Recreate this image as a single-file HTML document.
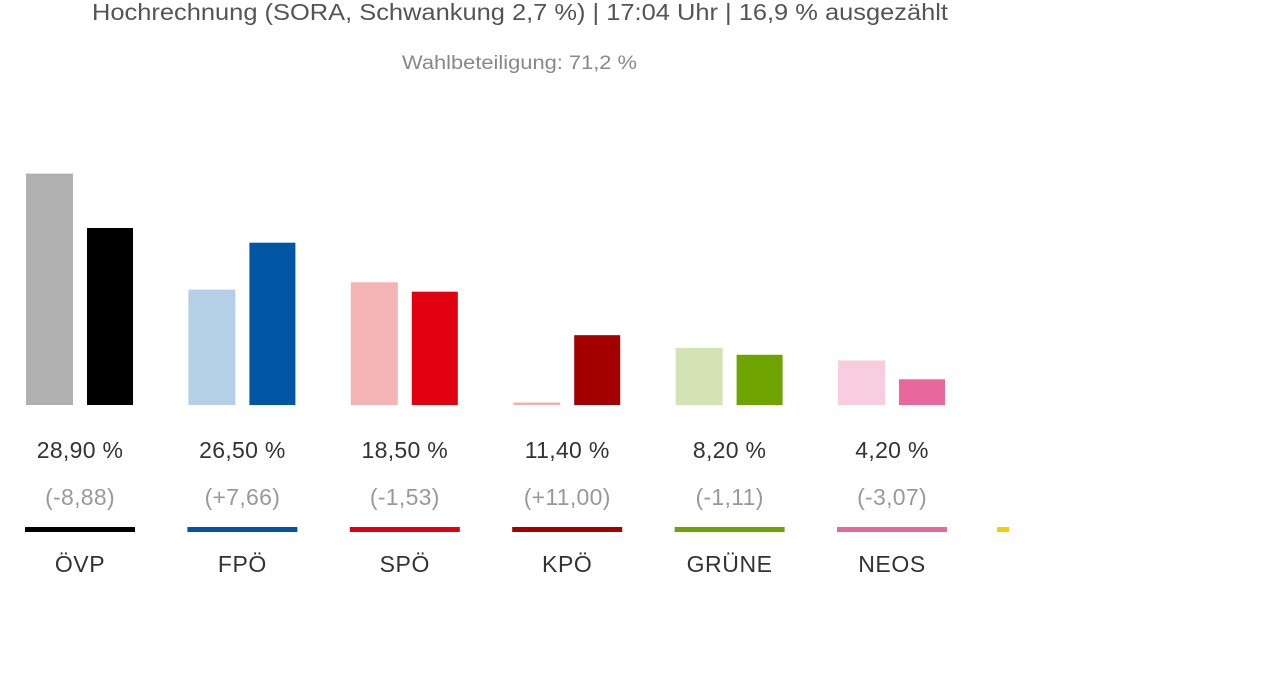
<!DOCTYPE html>
<html><head><meta charset="utf-8"><style>
body{margin:0;background:#fff;width:1280px;height:694px;overflow:hidden;font-family:"Liberation Sans",sans-serif}
</style></head><body>
<svg id="c" width="1280" height="694" xmlns="http://www.w3.org/2000/svg">
<text x="92" y="20" textLength="856" lengthAdjust="spacingAndGlyphs" font-size="23" fill="#555">Hochrechnung (SORA, Schwankung 2,7 %) | 17:04 Uhr | 16,9 % ausgezählt</text>
<text x="402" y="69" textLength="235" lengthAdjust="spacingAndGlyphs" font-size="19" fill="#888">Wahlbeteiligung: 71,2 %</text>
</svg>
<script>
const parties=["ÖVP","FPÖ","SPÖ","KPÖ","GRÜNE","NEOS"];
const current=[28.90,26.50,18.50,11.40,8.20,4.20];
const changes=[-8.88,7.66,-1.53,11.00,-1.11,-3.07];
const colors=["#000000","#0056a4","#e0000f","#a50000","#6ea300","#e8679d"];
const lightColors=["#b0b0b0","#b5cfe6","#f4b3b4","#efb0b0","#d4e3b3","#f8cde0"];
const svg=document.getElementById('c');
const NS="http://www.w3.org/2000/svg";
const base=405, scale=6.125, x0=26, pitch=162.4;
function y(v){return base-v*scale;}
function fmt(v){return v.toFixed(2).replace('.',',');}
function mk(tag,attrs,txt){const e=document.createElementNS(NS,tag);for(const k in attrs)e.setAttribute(k,attrs[k]);if(txt!==undefined)e.textContent=txt;svg.appendChild(e);return e;}
parties.forEach((p,i)=>{
  const gx=x0+i*pitch;
  const prev=current[i]-changes[i];
  const pv=Math.max(prev,0.4);
  const b1=mk('rect',{x:gx,y:y(pv),width:47,height:base-y(pv),fill:lightColors[i]});
  
  
  const b2=mk('rect',{x:gx+61,y:y(current[i]),width:46,height:base-y(current[i]),fill:colors[i]});
  
  
  const cx=gx+54;
  const t1=mk('text',{x:cx,y:458,'text-anchor':'middle','font-size':23,fill:'#333','letter-spacing':'0.3'},fmt(current[i])+' %');
  
  
  const t2=mk('text',{x:cx,y:505,'text-anchor':'middle','font-size':23,fill:'#999','letter-spacing':'0.3'},'('+(changes[i]>=0?'+':'')+fmt(changes[i])+')');
  
  
  const l=mk('rect',{x:gx-1,y:527,width:110,height:5,fill:colors[i]});
  
  
  const t3=mk('text',{x:cx,y:572,'text-anchor':'middle','font-size':23,fill:'#333','letter-spacing':'0.6'},p);
  
  
});
const yl=mk('rect',{x:997,y:527,width:12,height:5,fill:'#f0d000'});


</script>
</body></html>
